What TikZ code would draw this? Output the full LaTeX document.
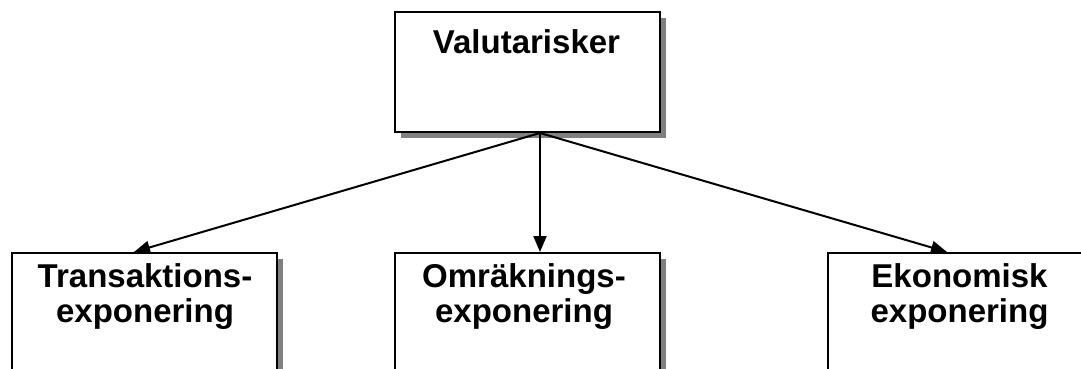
\documentclass[tikz,border=0pt]{standalone}
\usepackage{fontspec}
\setmainfont{Liberation Sans}
\usetikzlibrary{arrows.meta,shadows,calc}

\begin{document}
\begin{tikzpicture}[x=1pt, y=-1pt, line width=2pt, >={Triangle[length=16pt,width=13pt]},
    box/.style={draw, fill=white, anchor=north west, inner sep=0pt,
        minimum width=265pt, minimum height=120pt,
        drop shadow={shadow xshift=6pt, shadow yshift=-6pt, fill=black!50, opacity=1}},
    txt/.style={font=\bfseries\fontsize{33}{35}\selectfont, align=center, anchor=base}]
   	 \useasboundingbox (0,0) rectangle (1081,369);
   	 \clip (0,0) rectangle (1081,369);
   	 % boxes
   	 \node[box] (risk) at (394,11) {};
   	 \node[box] (trans) at (11,252) {};
   	 \node[box] (omr) at (394,252) {};
   	 \node[box] (eko) at (827,252) {};
   	 % texts
   	 \node[txt] (risktxt) at (526.5,53) {Valutarisker};
   	 \node[txt] (transtxt) at (145,322) {Transaktions-\\exponering};
   	 \node[txt] (omrtxt) at (524,322) {Omräknings-\\exponering};
   	 \node[txt] (ekotxt) at (959.5,322) {Ekonomisk\\exponering};
   	 % arrows
   	 \coordinate (fork) at ($(risk.south)+(12.5,0)$);
   	 \draw[->] (fork) -- ($(trans.north)+(-10.5,0)$);
   	 \draw[->] (fork) -- ($(omr.north)+(12.5,0)$);
   	 \draw[->] (fork) -- ($(eko.north)+(-13.5,0)$);
\end{tikzpicture}
\end{document}
